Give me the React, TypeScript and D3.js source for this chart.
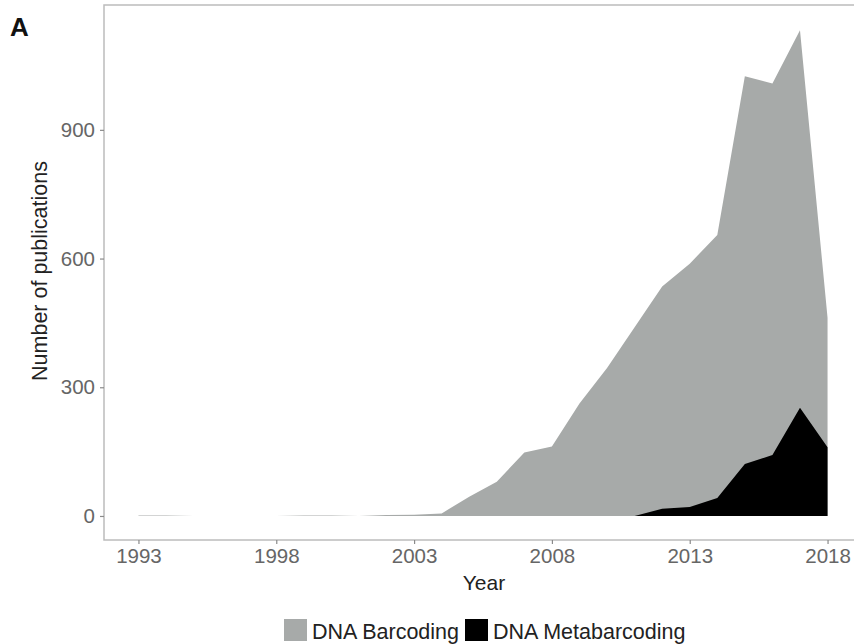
import { useEffect, useRef } from "react";
import * as d3 from "d3";

const years = [
    1993, 1994, 1995, 1996, 1997, 1998, 1999, 2000, 2001, 2002, 2003,
    2004, 2005, 2006, 2007, 2008, 2009, 2010, 2011, 2012, 2013, 2014,
    2015, 2016, 2017, 2018,
];

const barcoding = [
    1, 1, 0, 0, 0, 0, 1, 1, 0, 2, 3, 6, 45, 80, 148, 162, 262, 345, 440,
    535, 588, 655, 1025, 1008, 1132, 462,
];

const metabarcoding = [
    0, 0, 0, 0, 0, 0, 0, 0, 0, 0, 0, 0, 0, 0, 0, 0, 0, 0, 0, 17, 21, 42,
    121, 142, 252, 160,
];

const xTicks = [1993, 1998, 2003, 2008, 2013, 2018];
const yTicks = [0, 300, 600, 900];

const seriesNames = ["DNA Barcoding", "DNA Metabarcoding"];
const seriesColors = ["#a7aaa9", "#000000"];

const FONT = "'Liberation Sans', Arial, sans-serif";

export default function App() {
    const svgRef = useRef<SVGSVGElement | null>(null);

    useEffect(() => {
        const width = 854;
        const height = 644;
        const svg = d3.select(svgRef.current);
        svg.selectAll("*").remove();
        svg.attr("width", width).attr("height", height);

        const panel = { left: 104, top: 5, right: 862, bottom: 540 };

        const x = d3
            .scaleLinear()
            .domain([1991.75, 2019.25])
            .range([panel.left, panel.right]);

        const y = d3
            .scaleLinear()
            .domain([-56, 1191])
            .range([panel.bottom, panel.top]);

        svg.append("rect")
            .attr("width", width)
            .attr("height", height)
            .attr("fill", "#ffffff");

        const series = [barcoding, metabarcoding];

        series.forEach((values, i) => {
            const points = years.map((year, j) => ({
                year,
                value: values[j],
            }));
            const area = d3
                .area<{ year: number; value: number }>()
                .x((d) => x(d.year))
                .y0(y(0))
                .y1((d) => y(d.value));
            svg.append("path")
                .datum(points)
                .attr("d", area)
                .attr("fill", seriesColors[i]);
        });

        // panel border
        svg.append("rect")
            .attr("x", panel.left)
            .attr("y", panel.top)
            .attr("width", panel.right - panel.left)
            .attr("height", panel.bottom - panel.top)
            .attr("fill", "none")
            .attr("stroke", "#bcbcbc")
            .attr("stroke-width", 1.5);

        const xAxis = svg
            .append("g")
            .attr("transform", `translate(0, ${panel.bottom})`)
            .call(
                d3
                    .axisBottom(x)
                    .tickValues(xTicks)
                    .tickFormat(d3.format("d"))
                    .tickSize(4)
                    .tickPadding(4)
            );

        const yAxis = svg
            .append("g")
            .attr("transform", `translate(${panel.left}, 0)`)
            .call(
                d3
                    .axisLeft(y)
                    .tickValues(yTicks)
                    .tickFormat(d3.format("d"))
                    .tickSize(4)
                    .tickPadding(5)
            );

        [xAxis, yAxis].forEach((axis) => {
            axis.select(".domain").remove();
            axis.selectAll(".tick line")
                .attr("stroke", "#8a8a8a")
                .attr("stroke-width", 1.2);
            axis.selectAll(".tick text")
                .attr("fill", "#666666")
                .attr("font-family", FONT)
                .attr("font-size", 20.5);
        });

        svg.append("text")
            .attr("x", 484)
            .attr("y", 590)
            .attr("text-anchor", "middle")
            .attr("font-family", FONT)
            .attr("font-size", 21)
            .attr("fill", "#222222")
            .text("Year");

        svg.append("text")
            .attr("transform", "translate(47, 271) rotate(-90)")
            .attr("text-anchor", "middle")
            .attr("font-family", FONT)
            .attr("font-size", 21.5)
            .attr("fill", "#222222")
            .text("Number of publications");

        svg.append("text")
            .attr("x", 10)
            .attr("y", 36)
            .attr("font-family", FONT)
            .attr("font-size", 26)
            .attr("font-weight", "bold")
            .attr("fill", "#111111")
            .text("A");

        // legend
        const legend = svg
            .append("g")
            .attr("transform", "translate(284, 619)");
        let offset = 0;
        seriesNames.forEach((name, i) => {
            const item = legend
                .append("g")
                .attr("transform", `translate(${offset}, 0)`);
            item.append("rect")
                .attr("width", 23)
                .attr("height", 22)
                .attr("fill", seriesColors[i]);
            const label = item
                .append("text")
                .attr("x", 28)
                .attr("y", 20)
                .attr("font-family", FONT)
                .attr("font-size", 21.5)
                .attr("fill", "#222222")
                .text(name);
            const textWidth =
                (label.node() as SVGTextElement).getComputedTextLength();
            offset += 28 + textWidth + 6;
        });
    }, []);

    return (
        <svg
            ref={svgRef}
            style={{ position: "absolute", left: 0, top: 0, display: "block" }}
        />
    );
}
